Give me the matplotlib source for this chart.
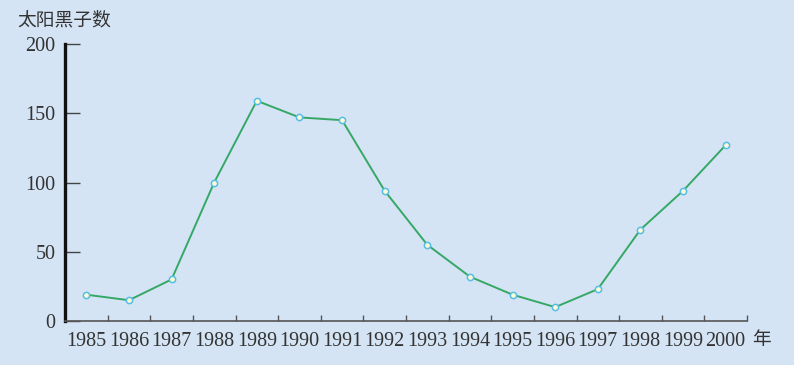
import numpy as np
import matplotlib.pyplot as plt
from matplotlib.ticker import FixedLocator, NullFormatter, FixedFormatter

years = [str(y) for y in range(1985, 2001)]
sunspots = [19, 15, 30, 100, 159, 147, 145, 94, 55, 32, 19, 10, 23, 66, 94, 127]
y_ticks = [0, 50, 100, 150, 200]

bg = "#d4e4f4"
serif = ["Liberation Serif", "DejaVu Serif"]
cjk = ["Noto Sans CJK SC", "DejaVu Sans"]

fig = plt.figure(figsize=(7.94, 3.65), dpi=100, facecolor=bg)
ax = fig.add_axes([65 / 794, 1 - 321 / 365, 682 / 794, 277 / 365], facecolor=bg)

x = np.arange(len(years)) + 0.5
ax.plot(x, sunspots, color="#35a865", lw=1.4, zorder=2)
ax.plot(x, sunspots, ls="none", marker="o", ms=4.5, mfc="#fbfbd2",
        mec="#56bde8", mew=1.1, zorder=3, clip_on=False)

ax.set_xlim(0, len(years))
ax.set_ylim(0, 200)

for s in ["top", "right"]:
    ax.spines[s].set_visible(False)
ax.spines["left"].set_linewidth(2.4)
ax.spines["left"].set_color("#111111")
ax.spines["bottom"].set_linewidth(1.2)
ax.spines["bottom"].set_color("#555555")

# y axis
ax.set_yticks(y_ticks)
ax.tick_params(axis="y", direction="in", length=11, width=1, color="#444444",
               labelsize=14.5, labelcolor="#333333", pad=7)

# x axis: ticks at year boundaries, labels centred in each interval
ax.xaxis.set_major_locator(FixedLocator(np.arange(1, len(years) + 1)))
ax.xaxis.set_major_formatter(NullFormatter())
ax.xaxis.set_minor_locator(FixedLocator(x))
ax.xaxis.set_minor_formatter(FixedFormatter(years))
ax.tick_params(axis="x", which="major", direction="in", length=4.5, width=1,
               color="#555555")
ax.tick_params(axis="x", which="minor", length=0, labelsize=14.5,
               labelcolor="#333333", pad=8)

for lab in ax.get_xticklabels(minor=True) + ax.get_yticklabels():
    lab.set_family(serif)

fig.text(17 / 794, 1 - 20 / 365, "太阳黑子数", family=cjk, fontsize=13.5,
         color="#333333", ha="left", va="center")
fig.text(752 / 794, 1 - 339 / 365, "年", family=cjk, fontsize=13.5,
         color="#333333", ha="left", va="center")

fig.savefig("out.png", dpi=100, facecolor=bg)
